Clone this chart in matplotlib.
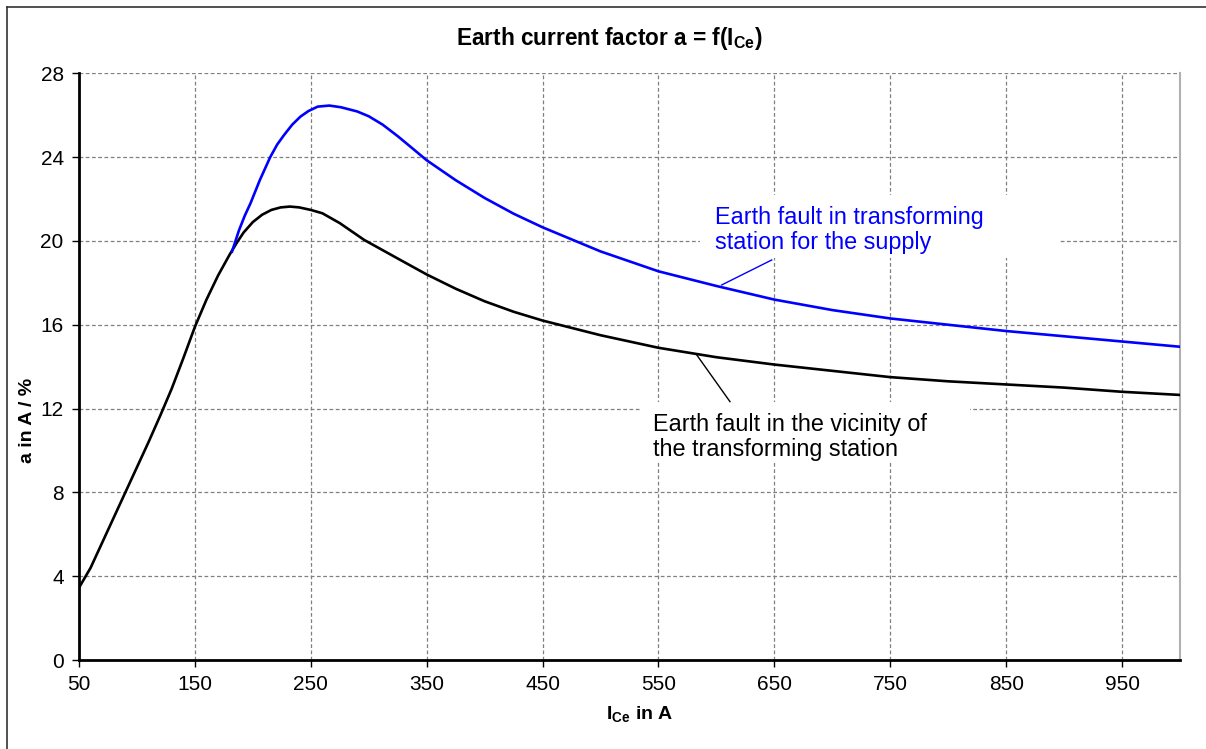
import matplotlib
matplotlib.use("Agg")
import matplotlib.pyplot as plt
from matplotlib.lines import Line2D
from matplotlib.patches import Rectangle

plt.rcParams['font.family'] = ['Liberation Sans', 'DejaVu Sans']
plt.rcParams['mathtext.fontset'] = 'custom'
plt.rcParams['mathtext.bf'] = 'Liberation Sans:bold'
plt.rcParams['mathtext.rm'] = 'Liberation Sans'

# ---- data ----
x_black = [50, 60, 70, 80, 90, 100, 110, 120, 130, 140, 150, 160, 170, 180, 186,
           192, 200, 208, 216, 224, 232, 240, 250, 260, 275, 296, 327, 350, 375,
           400, 425, 450, 500, 550, 600, 650, 700, 750, 800, 850, 900, 950, 1000]
y_black = [3.45, 4.4, 5.6, 6.8, 8.0, 9.2, 10.4, 11.65, 12.95, 14.4, 15.9, 17.2,
           18.35, 19.35, 19.9, 20.4, 20.9, 21.25, 21.48, 21.6, 21.64, 21.6, 21.48,
           21.32, 20.85, 20.05, 19.1, 18.4, 17.72, 17.12, 16.62, 16.2, 15.5, 14.9,
           14.45, 14.1, 13.8, 13.5, 13.3, 13.15, 13.0, 12.8, 12.65]

x_blue = [182, 188, 193, 198, 206, 215, 221, 227, 234, 241, 248, 256, 266, 276,
          290, 300, 312, 325, 337, 350, 375, 400, 425, 450, 500, 550, 600, 650,
          700, 750, 800, 850, 900, 950, 1000]
y_blue = [19.49, 20.5, 21.2, 21.8, 22.9, 24.0, 24.6, 25.06, 25.55, 25.93, 26.2,
          26.41, 26.46, 26.38, 26.18, 25.95, 25.55, 25.0, 24.45, 23.85, 22.9,
          22.05, 21.3, 20.65, 19.5, 18.55, 17.85, 17.2, 16.7, 16.3, 16.0, 15.7,
          15.45, 15.2, 14.95]

x_ticks = [50, 150, 250, 350, 450, 550, 650, 750, 850, 950]
y_ticks = [0, 4, 8, 12, 16, 20, 24, 28]

title = r'Earth current factor a = f(I$_{\mathbf{Ce}}$)'
xlabel = r'I$_{\mathbf{Ce}}$ in A'
ylabel = 'a in A / %'
label_blue = 'Earth fault in transforming\nstation for the supply'
label_black = 'Earth fault in the vicinity of\nthe transforming station'

# ---- figure ----
W, H = 1206, 749
fig = plt.figure(figsize=(W / 100, H / 100), dpi=100)
ax = fig.add_axes([79 / W, 1 - 660 / H, (1180 - 79) / W, (660 - 73.3) / H])

ax.plot(x_black, y_black, color='black', lw=1.9, zorder=4)
ax.plot(x_blue, y_blue, color='#0000ff', lw=1.9, zorder=4)

ax.set_xlim(50, 1000)
ax.set_ylim(0, 28)
ax.set_xticks(x_ticks)
ax.set_yticks(y_ticks)
ax.tick_params(axis='both', labelsize=15, length=5, width=1, direction='out', pad=6)
ax.grid(True, color='#808080', linestyle=(0, (3, 2)), linewidth=0.9, zorder=0)
ax.set_axisbelow(True)

for s in ['left', 'bottom']:
    ax.spines[s].set_linewidth(2)
    ax.spines[s].set_color('black')
ax.spines['top'].set_visible(False)
ax.spines['right'].set_color('#b0b0b0')
ax.spines['right'].set_linewidth(1.5)

# white boxes behind annotation texts (hide gridlines)
def px_box(x0, y0, x1, y1):
    return Rectangle((x0 / W, 1 - y1 / H), (x1 - x0) / W, (y1 - y0) / H,
                     transform=fig.transFigure, facecolor='white', edgecolor='none',
                     zorder=2)

ax.add_patch(px_box(700, 195, 1060, 258))
ax.add_patch(px_box(640, 402, 970, 463))

ax.text(598.8, 20.52, label_blue, color='#0000ff', fontsize=16.8, va='center',
        ha='left', linespacing=1.15, zorder=5)
ax.text(545.3, 10.64, label_black, color='black', fontsize=16.8, va='center',
        ha='left', linespacing=1.15, zorder=5)

ax.plot([604.6, 647.7], [17.9, 19.09], color='#0000ff', lw=1.0, zorder=5)
ax.plot([583.0, 611.7], [14.56, 12.33], color='black', lw=1.0, zorder=5)

fig.text(609 / W, 1 - 38 / H, title, fontsize=16.3, fontweight='bold',
         ha='center', va='center')
fig.text(640 / W, 1 - 715 / H, xlabel, fontsize=14, fontweight='bold',
         ha='center', va='center')
fig.text(28 / W, 1 - 420 / H, ylabel, fontsize=14, fontweight='bold',
         ha='center', va='center', rotation=90)

# figure border (top and left)
fig.add_artist(Line2D([7 / W, 7 / W], [0, 1 - 7 / H], transform=fig.transFigure,
                      color='#333333', lw=1.2))
fig.add_artist(Line2D([7 / W, 1], [1 - 7 / H, 1 - 7 / H], transform=fig.transFigure,
                      color='#333333', lw=1.2))

fig.savefig('out.png', dpi=100)
